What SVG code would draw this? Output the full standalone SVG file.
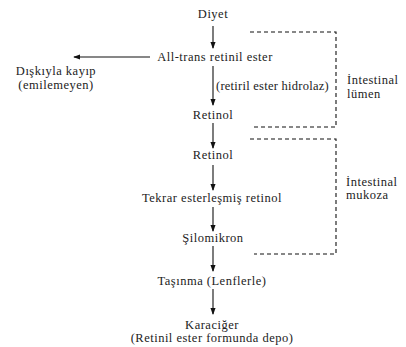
<svg xmlns="http://www.w3.org/2000/svg" width="406" height="347" viewBox="0 0 406 347">
<style>
text{font-family:"Liberation Serif","Times New Roman",serif;font-size:12.5px;letter-spacing:0.5px;fill:#222}
.c{text-anchor:middle}
.l{stroke:#111;stroke-width:1.1;fill:none}
.d{stroke:#111;stroke-width:1.1;fill:none;stroke-dasharray:4 3}
</style>
<defs>
<marker id="ah" viewBox="0 0 8 8" refX="7" refY="4" markerWidth="7" markerHeight="7" markerUnits="userSpaceOnUse" orient="auto">
<path d="M0,1 L8,4 L0,7 z" fill="#111"/>
</marker>
</defs>
<rect width="406" height="347" fill="#fff"/>
<g id="connectors">
<line class="l" x1="213" y1="26" x2="213" y2="48" marker-end="url(#ah)"/>
<line class="l" x1="150" y1="57" x2="74" y2="57" marker-end="url(#ah)"/>
<line class="l" x1="213" y1="66" x2="213" y2="105" marker-end="url(#ah)"/>
<line class="l" x1="213" y1="123" x2="213" y2="148" marker-end="url(#ah)"/>
<line class="l" x1="213" y1="165" x2="213" y2="190" marker-end="url(#ah)"/>
<line class="l" x1="213" y1="207" x2="213" y2="231" marker-end="url(#ah)"/>
<line class="l" x1="213" y1="246" x2="213" y2="271" marker-end="url(#ah)"/>
<line class="l" x1="213" y1="289" x2="213" y2="314" marker-end="url(#ah)"/>
</g>
<g id="lumen">
<polyline class="d" points="250,32 336,32 336,127 254,127"/>
<text x="347" y="84">İntestinal</text>
<text x="347" y="98">lümen</text>
</g>
<g id="mukoza">
<polyline class="d" points="250,139 336,139 336,254 254,254"/>
<text x="346" y="186">İntestinal</text>
<text x="346" y="199">mukoza</text>
</g>
<g id="diyet"><text class="c" x="213" y="18">Diyet</text></g>
<g id="alltrans"><text class="c" x="215" y="61">All-trans retinil ester</text></g>
<g id="diskiyla"><text class="c" x="56" y="75">Dışkıyla kayıp</text><text class="c" x="56" y="89">(emilemeyen)</text></g>
<g id="hidrolaz"><text x="216" y="90" style="letter-spacing:0.25px">(retiril ester hidrolaz)</text></g>
<g id="retinol1"><text class="c" x="213" y="119">Retinol</text></g>
<g id="retinol2"><text class="c" x="213" y="159">Retinol</text></g>
<g id="tekrar"><text class="c" x="212" y="202">Tekrar esterleşmiş retinol</text></g>
<g id="silomikron"><text class="c" x="213" y="242">Şilomikron</text></g>
<g id="tasinma"><text class="c" x="212" y="285">Taşınma (Lenflerle)</text></g>
<g id="karaciger"><text class="c" x="212" y="329">Karaciğer</text><text class="c" x="212" y="342">(Retinil ester formunda depo)</text></g>
</svg>
